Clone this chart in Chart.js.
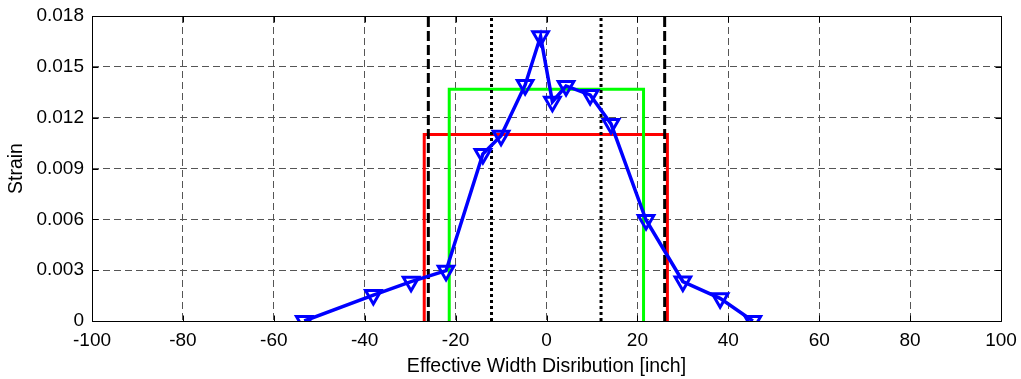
<!DOCTYPE html>
<html>
<head>
<meta charset="utf-8">
<script src="https://cdn.jsdelivr.net/npm/chart.js@4/dist/chart.umd.min.js"></script>
<style>
  html, body { margin: 0; padding: 0; background: #fff; }
  #wrap { width: 1021px; height: 379px; }
</style>
</head>
<body>
<div id="wrap"><canvas id="c" width="1021" height="379"></canvas></div>
<script>
// ---- data ----
const strainX = [-53.3, -38.1, -29.8, -22.1, -14.0, -10.0, -4.7, -1.3, 1.3, 4.3, 9.6, 14.2, 21.9, 30.0, 38.2, 45.4];
const strainY = [0, 0.00153, 0.00232, 0.00297, 0.00986, 0.01093, 0.01393, 0.0168, 0.01294, 0.01387, 0.01334, 0.01163, 0.00596, 0.00233, 0.00134, 0];

const redX = [-26.9, -26.9, 26.6, 26.6];
const redY = [0, 0.011, 0.011, 0];

const greenX = [-21.4, -21.4, 21.35, 21.35];
const greenY = [0, 0.01367, 0.01367, 0];

const dashedX = [-26.0, 26.0];
const dottedX = [-12.1, 12.0];
const vLineY = [0, 0.018];

const xTicks = [-100, -80, -60, -40, -20, 0, 20, 40, 60, 80, 100];
const yTicks = [0, 0.003, 0.006, 0.009, 0.012, 0.015, 0.018];

const xTitle = 'Effective Width Disribution [inch]';
const yTitle = 'Strain';

// ---- helpers ----
const pts = (xs, ys) => xs.map((x, i) => ({x: x, y: ys[i]}));
const vline = (x) => vLineY.map(y => ({x: x, y: y}));

const FONT = "'Liberation Sans', Arial, sans-serif";

const datasets = [
  {
    label: 'strain', data: pts(strainX, strainY),
    borderColor: '#0000ff', borderWidth: 3.5,
    pointStyle: 'triangle', rotation: 180, pointRadius: 9,
    pointBorderColor: '#0000ff', pointBackgroundColor: 'rgba(0,0,0,0)', pointBorderWidth: 3,
    tension: 0
  }
];
dashedX.forEach(x => datasets.push({
  label: 'dash', data: vline(x), borderColor: '#000', borderWidth: 3,
  borderDash: [10, 4], pointRadius: 0
}));
dottedX.forEach(x => datasets.push({
  label: 'dot', data: vline(x), borderColor: '#000', borderWidth: 3,
  borderDash: [3, 3], pointRadius: 0
}));
datasets.push({ label: 'green', data: pts(greenX, greenY), borderColor: '#00ff00', borderWidth: 3, pointRadius: 0 });
datasets.push({ label: 'red', data: pts(redX, redY), borderColor: '#ff0000', borderWidth: 3, pointRadius: 0 });

const framePlugin = {
  id: 'frame',
  beforeDatasetsDraw(chart) {
    const ctx = chart.ctx, a = chart.chartArea;
    const xs = chart.scales.x, ys = chart.scales.y;
    ctx.save();
    ctx.strokeStyle = '#000';
    ctx.lineWidth = 1;
    ctx.beginPath();
    const L = Math.round(a.left) + 0.5, R = Math.round(a.right) + 0.5;
    const T = Math.round(a.top) + 0.5, B = Math.round(a.bottom) + 0.5;
    ctx.rect(L, T, R - L, B - T);
    const tl = 6;
    xTicks.forEach(v => {
      const p = Math.round(xs.getPixelForValue(v)) + 0.5;
      ctx.moveTo(p, B); ctx.lineTo(p, B - tl);
      ctx.moveTo(p, T); ctx.lineTo(p, T + tl);
    });
    yTicks.forEach(v => {
      const p = Math.round(ys.getPixelForValue(v)) + 0.5;
      ctx.moveTo(L, p); ctx.lineTo(L + tl, p);
      ctx.moveTo(R, p); ctx.lineTo(R - tl, p);
    });
    ctx.stroke();
    ctx.restore();
  }
};

new Chart(document.getElementById('c'), {
  type: 'line',
  data: { datasets: datasets },
  plugins: [framePlugin],
  options: {
    responsive: false,
    animation: false,
    devicePixelRatio: 1,
    layout: { padding: { left: 0, right: 20, top: 16, bottom: 0 } },
    plugins: { legend: { display: false }, tooltip: { enabled: false } },
    elements: { line: { fill: false } },
    scales: {
      x: {
        type: 'linear', min: -100, max: 100,
        afterBuildTicks: (s) => { s.ticks = xTicks.map(v => ({value: v})); },
        afterFit: (s) => { s.height = 58; s.paddingLeft = 0; s.paddingRight = 0; },
        grid: { color: '#555', lineWidth: 1, drawTicks: false },
        border: { display: false, dash: [7, 4] },
        ticks: { color: '#000', font: { family: FONT, size: 19 }, padding: 8, maxRotation: 0,
                 callback: (v) => String(v) },
        title: { display: true, text: xTitle, color: '#000', font: { family: FONT, size: 19.5 }, padding: { top: 2, bottom: 1 } }
      },
      y: {
        type: 'linear', min: 0, max: 0.018,
        afterBuildTicks: (s) => { s.ticks = yTicks.map(v => ({value: v})); },
        afterFit: (s) => { s.width = 92; s.paddingTop = 0; s.paddingBottom = 0; },
        grid: { color: '#555', lineWidth: 1, drawTicks: false },
        border: { display: false, dash: [7, 4] },
        ticks: { color: '#000', font: { family: FONT, size: 19 }, padding: 8,
                 callback: (v) => v === 0 ? '0' : v.toFixed(3) },
        title: { display: true, text: yTitle, color: '#000', font: { family: FONT, size: 19.5 }, padding: { top: 5, bottom: 4 } }
      }
    }
  }
});
</script>
</body>
</html>
